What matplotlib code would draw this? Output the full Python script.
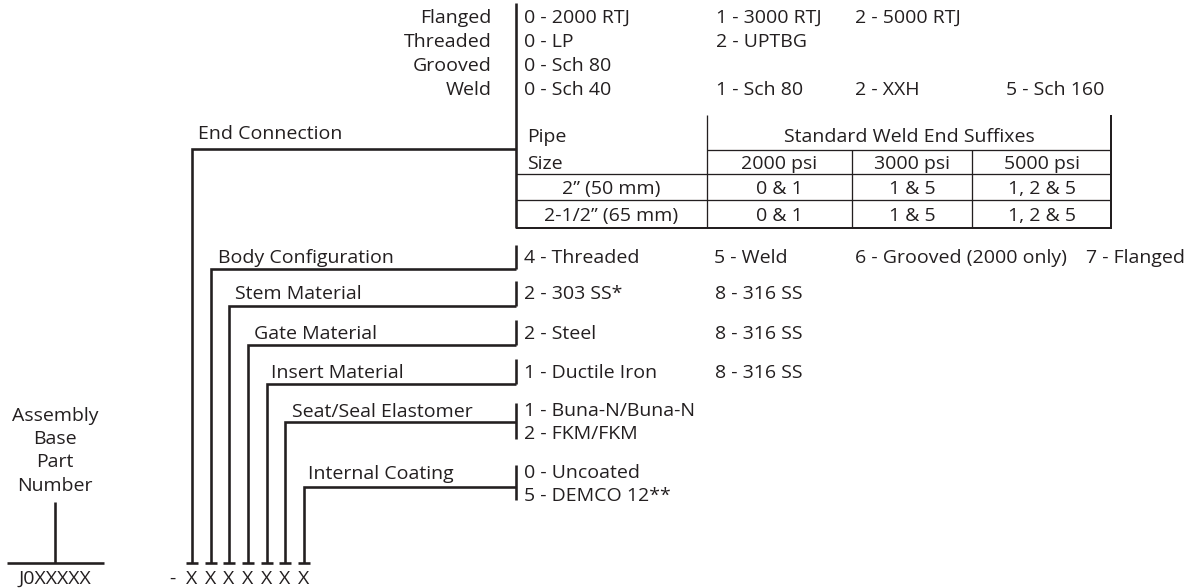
import matplotlib
matplotlib.use("Agg")
import matplotlib.pyplot as plt

# ---------------- data ----------------
end_types = ["Flanged", "Threaded", "Grooved", "Weld"]
end_options = [
    ["0 - 2000 RTJ", "1 - 3000 RTJ", "2 - 5000 RTJ"],
    ["0 - LP", "2 - UPTBG"],
    ["0 - Sch 80"],
    ["0 - Sch 40", "1 - Sch 80", "2 - XXH", "5 - Sch 160"],
]
table_title = "Standard Weld End Suffixes"
pipe_header = ["Pipe", "Size"]
psi_headers = ["2000 psi", "3000 psi", "5000 psi"]
pipe_sizes = ["2\u201d (50 mm)", "2-1/2\u201d (65 mm)"]
suffixes = [
    ["0 & 1", "1 & 5", "1, 2 & 5"],
    ["0 & 1", "1 & 5", "1, 2 & 5"],
]
fields = ["End Connection", "Body Configuration", "Stem Material",
          "Gate Material", "Insert Material", "Seat/Seal Elastomer",
          "Internal Coating"]
body_options = ["4 - Threaded", "5 - Weld", "6 - Grooved (2000 only)", "7 - Flanged"]
stem_options = ["2 - 303 SS*", "8 - 316 SS"]
gate_options = ["2 - Steel", "8 - 316 SS"]
insert_options = ["1 - Ductile Iron", "8 - 316 SS"]
seat_options = ["1 - Buna-N/Buna-N", "2 - FKM/FKM"]
coating_options = ["0 - Uncoated", "5 - DEMCO 12**"]
base_label = ["Assembly", "Base", "Part", "Number"]
base_code = "J0XXXXX"
code_chars = ["X"] * 7

# ---------------- drawing ----------------
W, H = 1187, 588
fig = plt.figure(figsize=(W / 100, H / 100), dpi=100)
ax = fig.add_axes([0, 0, 1, 1])
ax.set_xlim(0, W)
ax.set_ylim(H, 0)
ax.axis("off")

INK = "#231f20"
FONT = ["Open Sans", "DejaVu Sans"]
FS = 14
PX = 0.72  # points per pixel
LW_MAIN = 2.6 * PX
LW_BORDER = 2.0 * PX
LW_THIN = 1.3 * PX


def line(xs, ys, lw=LW_MAIN):
    ax.plot(xs, ys, color=INK, lw=lw, solid_capstyle="butt",
            solid_joinstyle="miter")


def txt(x, y, s, ha="left", va="baseline"):
    ax.text(x, y, s, ha=ha, va=va, fontsize=FS, color=INK, family=FONT)


XM = 516  # main vertical line
COLS = [524, 716, 855, 1006]

# End connection types and options
top_base = [23, 47, 71, 95]
top_cols = [[0, 1, 2], [0, 1], [0], [0, 1, 2, 3]]
for name, opts, yb, cidx in zip(end_types, end_options, top_base, top_cols):
    txt(492, yb, name, ha="right")
    for o, c in zip(opts, cidx):
        txt(COLS[c], yb, o)

# Table
TR = 1111
TD = 707
psi_edges = [707, 852, 972, 1111]
line([XM, XM], [3, 228], lw=LW_MAIN)
line([TR, TR], [115, 228], lw=LW_BORDER)
line([XM, TR + 1], [228, 228], lw=LW_BORDER)
line([TD, TD], [115, 228], lw=LW_THIN)
line([TD, TR], [150, 150], lw=LW_THIN)
line([XM, TR], [174, 174], lw=LW_THIN)
line([XM, TR], [200, 200], lw=LW_THIN)
for xe in psi_edges[1:-1]:
    line([xe, xe], [150, 228], lw=LW_THIN)

txt(527, 142, pipe_header[0])
txt(527, 169, pipe_header[1])
txt((TD + TR) / 2, 142, table_title, ha="center")
for i, h in enumerate(psi_headers):
    txt((psi_edges[i] + psi_edges[i + 1]) / 2, 169, h, ha="center")
row_base = [194, 221]
for r, (ps, sfx) in enumerate(zip(pipe_sizes, suffixes)):
    txt((XM + TD) / 2, row_base[r], ps, ha="center")
    for i, s in enumerate(sfx):
        txt((psi_edges[i] + psi_edges[i + 1]) / 2, row_base[r], s, ha="center")

# Brackets
YB = 563
YCODE = 587.5
vx = [192, 211, 229, 248, 267, 285, 304]
hy = [149, 269, 306, 345, 384, 422, 487]
btop = [None, 245, 281, 320, 359, 403, 465]
bbot = [None, 269, 306, 345, 384, 439, 500]
lab_x = [198, 218, 235, 254, 271, 292, 308]
lab_y = [139, 263, 299, 339, 378, 417, 479]

for i in range(len(fields)):
    line([XM, vx[i], vx[i]], [hy[i], hy[i], YB])
    if btop[i] is not None:
        line([XM, XM], [btop[i], bbot[i]])
    line([vx[i] - 6, vx[i] + 6], [YB, YB])
    txt(lab_x[i], lab_y[i], fields[i])
    txt(vx[i], YCODE, code_chars[i], ha="center", va="bottom")

txt(172, YCODE, "-", ha="center", va="bottom")

# Horizontal option rows
body_x = [524, 714, 855, 1086]
for o, x in zip(body_options, body_x):
    txt(x, 263, o)
for opts, yb in zip([stem_options, gate_options, insert_options],
                    [299, 339, 378]):
    txt(524, yb, opts[0])
    txt(715, yb, opts[1])

# Stacked option rows
for o, yb in zip(seat_options, [416, 439]):
    txt(524, yb, o)
for o, yb in zip(coating_options, [478, 501]):
    txt(524, yb, o)

# Assembly base part number
for s, yb in zip(base_label, [421, 444, 467, 491]):
    txt(55, yb, s, ha="center")
line([55, 55], [502, 563])
line([7, 104], [563, 563])
txt(55, YCODE, base_code, ha="center", va="bottom")

fig.savefig("out.png", dpi=100)
